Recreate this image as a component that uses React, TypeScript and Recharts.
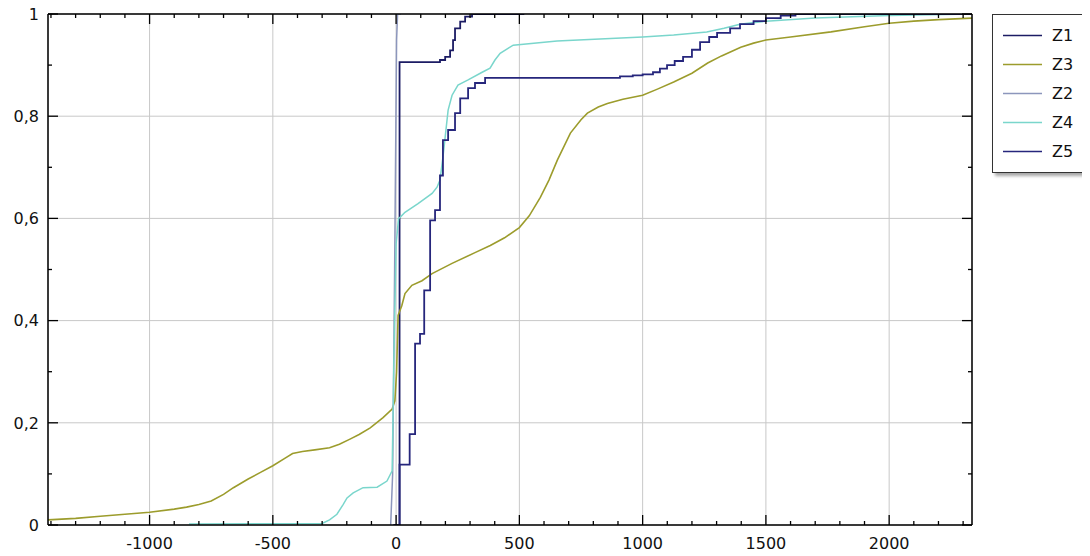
import React from 'react';
import { LineChart, Line, XAxis, YAxis, CartesianGrid, Legend } from 'recharts';

// ---------- axes ----------
const X_DOMAIN: [number, number] = [-1412, 2336];
const xTicks = [-1400, -1300, -1200, -1100, -1000, -900, -800, -700, -600, -500, -400, -300, -200, -100, 0, 100, 200, 300, 400, 500, 600, 700, 800, 900, 1000, 1100, 1200, 1300, 1400, 1500, 1600, 1700, 1800, 1900, 2000, 2100, 2200, 2300];
const xMajorTicks = [-1000, -500, 0, 500, 1000, 1500, 2000];
const yTicks = [0, 0.1, 0.2, 0.3, 0.4, 0.5, 0.6, 0.7, 0.8, 0.9, 1];
const yGridTicks = [0.2, 0.4, 0.6, 0.8];
const yLabelValues = [0, 0.2, 0.4, 0.6, 0.8, 1];
const yLabelTexts = ['0', '0,2', '0,4', '0,6', '0,8', '1'];
const legendOrder = ['Z1', 'Z3', 'Z2', 'Z4', 'Z5'];

// ---------- series ----------
const z1 = [
  { x: -10, y: 0 }, { x: 14, y: 0.906 }, { x: 178, y: 0.91 }, { x: 199, y: 0.916 }, { x: 219, y: 0.929 },
  { x: 231, y: 0.949 }, { x: 239, y: 0.972 }, { x: 260, y: 0.985 }, { x: 280, y: 0.995 }, { x: 308, y: 1 },
  { x: 520, y: 1 },
];

const z3 = [
  { x: -1412, y: 0.01 }, { x: -1300, y: 0.013 }, { x: -1200, y: 0.017 }, { x: -1100, y: 0.021 }, { x: -1000, y: 0.025 },
  { x: -900, y: 0.031 }, { x: -850, y: 0.035 }, { x: -800, y: 0.04 }, { x: -750, y: 0.047 }, { x: -700, y: 0.06 },
  { x: -660, y: 0.073 }, { x: -600, y: 0.09 }, { x: -550, y: 0.103 }, { x: -500, y: 0.116 }, { x: -450, y: 0.131 },
  { x: -420, y: 0.14 }, { x: -380, y: 0.144 }, { x: -330, y: 0.147 }, { x: -270, y: 0.151 }, { x: -230, y: 0.158 },
  { x: -187, y: 0.168 }, { x: -150, y: 0.177 }, { x: -105, y: 0.19 }, { x: -53, y: 0.21 }, { x: -16, y: 0.227 },
  { x: -5, y: 0.243 }, { x: 2, y: 0.3 }, { x: 8, y: 0.41 }, { x: 23, y: 0.429 }, { x: 36, y: 0.453 },
  { x: 64, y: 0.469 }, { x: 105, y: 0.478 }, { x: 146, y: 0.492 }, { x: 227, y: 0.512 }, { x: 320, y: 0.533 },
  { x: 382, y: 0.547 }, { x: 440, y: 0.562 }, { x: 500, y: 0.582 }, { x: 540, y: 0.605 }, { x: 585, y: 0.641 },
  { x: 620, y: 0.675 }, { x: 654, y: 0.714 }, { x: 707, y: 0.767 }, { x: 750, y: 0.793 }, { x: 776, y: 0.806 },
  { x: 820, y: 0.818 }, { x: 857, y: 0.825 }, { x: 920, y: 0.833 }, { x: 1000, y: 0.841 }, { x: 1060, y: 0.853 },
  { x: 1126, y: 0.867 }, { x: 1200, y: 0.884 }, { x: 1264, y: 0.904 }, { x: 1320, y: 0.918 }, { x: 1398, y: 0.935 },
  { x: 1450, y: 0.943 }, { x: 1500, y: 0.949 }, { x: 1600, y: 0.955 }, { x: 1764, y: 0.965 }, { x: 1900, y: 0.975 },
  { x: 2000, y: 0.982 }, { x: 2100, y: 0.986 }, { x: 2200, y: 0.989 }, { x: 2336, y: 0.992 },
];

const z2 = [
  { x: -22, y: 0 }, { x: -14, y: 0.1 }, { x: -6, y: 0.5 }, { x: 2, y: 0.95 }, { x: 6, y: 1 }, { x: 20, y: 1 },
];

const z4 = [
  { x: -840, y: 0.002 }, { x: -300, y: 0.003 }, { x: -270, y: 0.01 }, { x: -240, y: 0.021 }, { x: -215, y: 0.04 },
  { x: -199, y: 0.053 }, { x: -174, y: 0.063 }, { x: -134, y: 0.073 }, { x: -77, y: 0.074 }, { x: -37, y: 0.086 },
  { x: -16, y: 0.106 }, { x: -8, y: 0.35 }, { x: 0, y: 0.55 }, { x: 10, y: 0.6 }, { x: 16, y: 0.602 },
  { x: 36, y: 0.612 }, { x: 89, y: 0.629 }, { x: 146, y: 0.649 }, { x: 166, y: 0.661 }, { x: 178, y: 0.675 },
  { x: 190, y: 0.72 }, { x: 199, y: 0.759 }, { x: 211, y: 0.812 }, { x: 227, y: 0.841 }, { x: 251, y: 0.861 },
  { x: 292, y: 0.871 }, { x: 349, y: 0.886 }, { x: 381, y: 0.894 }, { x: 401, y: 0.91 }, { x: 422, y: 0.923 },
  { x: 475, y: 0.939 }, { x: 653, y: 0.947 }, { x: 1000, y: 0.955 }, { x: 1126, y: 0.959 }, { x: 1260, y: 0.965 },
  { x: 1330, y: 0.972 }, { x: 1395, y: 0.98 }, { x: 1500, y: 0.986 }, { x: 1700, y: 0.992 }, { x: 2000, y: 0.997 },
  { x: 2336, y: 1 },
];

const z5 = [
  { x: -10, y: 0 }, { x: 14, y: 0.118 }, { x: 55, y: 0.178 }, { x: 77, y: 0.355 }, { x: 97, y: 0.374 },
  { x: 114, y: 0.459 }, { x: 138, y: 0.596 }, { x: 158, y: 0.616 }, { x: 178, y: 0.684 }, { x: 190, y: 0.753 },
  { x: 211, y: 0.773 }, { x: 239, y: 0.806 }, { x: 260, y: 0.835 }, { x: 292, y: 0.855 }, { x: 320, y: 0.865 },
  { x: 361, y: 0.875 }, { x: 908, y: 0.878 }, { x: 960, y: 0.88 }, { x: 1000, y: 0.882 }, { x: 1042, y: 0.886 },
  { x: 1070, y: 0.893 }, { x: 1099, y: 0.9 }, { x: 1130, y: 0.908 }, { x: 1164, y: 0.916 }, { x: 1200, y: 0.93 },
  { x: 1233, y: 0.945 }, { x: 1270, y: 0.955 }, { x: 1302, y: 0.963 }, { x: 1355, y: 0.972 }, { x: 1395, y: 0.98 },
  { x: 1450, y: 0.986 }, { x: 1500, y: 0.992 }, { x: 1560, y: 0.997 }, { x: 1620, y: 1 }, { x: 2336, y: 1 },
];

const COLORS = {
  z1: '#1c1c64',
  z3: '#9c9c2c',
  z2: '#8c96bc',
  z4: '#7ad6cc',
  z5: '#26267c',
};

const FONT = '"DejaVu Sans", "Liberation Sans", sans-serif';
const MAJOR_LEN = 10;
const MINOR_LEN = 4;

const isMajorX = (v: number) => xMajorTicks.includes(v);
const yLabelFor = (v: number) => {
  const i = yLabelValues.findIndex((t) => Math.abs(t - v) < 1e-6);
  return i >= 0 ? yLabelTexts[i] : null;
};

function BottomTick(props: any) {
  const { x, y, payload } = props;
  const v = payload.value;
  const major = isMajorX(v);
  return (
    <g>
      <line x1={x} y1={y} x2={x} y2={y - (major ? MAJOR_LEN : MINOR_LEN)} stroke="#000" strokeWidth={1.3} />
      {major && (
        <text x={x} y={y + 24} textAnchor="middle" fontSize={16} fontFamily={FONT} fill="#111">
          {v}
        </text>
      )}
    </g>
  );
}

function TopTick(props: any) {
  const { x, y, payload } = props;
  const major = isMajorX(payload.value);
  return <line x1={x} y1={y} x2={x} y2={y + (major ? MAJOR_LEN : MINOR_LEN)} stroke="#000" strokeWidth={1.3} />;
}

function LeftTick(props: any) {
  const { x, y, payload } = props;
  const label = yLabelFor(payload.value);
  const major = label !== null;
  return (
    <g>
      <line x1={x} y1={y} x2={x + (major ? MAJOR_LEN : MINOR_LEN)} y2={y} stroke="#000" strokeWidth={1.3} />
      {major && (
        <text x={x - 9} y={y} dy="0.36em" textAnchor="end" fontSize={16} fontFamily={FONT} fill="#111">
          {label}
        </text>
      )}
    </g>
  );
}

function RightTick(props: any) {
  const { x, y, payload } = props;
  const major = yLabelFor(payload.value) !== null;
  return <line x1={x} y1={y} x2={x - (major ? MAJOR_LEN : MINOR_LEN)} y2={y} stroke="#000" strokeWidth={1.3} />;
}

function renderLegend(props: any) {
  const items = props.payload ?? [];
  return (
    <div
      style={{
        width: 96,
        border: '1px solid #333',
        background: '#fff',
        boxShadow: '3px 3px 3px rgba(0,0,0,0.35)',
        padding: '6px 0',
        fontFamily: FONT,
        fontSize: 16,
        color: '#111',
      }}
    >
      {items.map((it: any) => (
        <div key={it.value} style={{ height: 29, display: 'flex', alignItems: 'center' }}>
          <svg width={59} height={29} style={{ display: 'block' }}>
            <line x1={10} x2={49} y1={14.5} y2={14.5} stroke={it.color} strokeWidth={1.6} />
          </svg>
          <span>{it.value}</span>
        </div>
      ))}
    </div>
  );
}

const axisLine = { stroke: '#000', strokeWidth: 1.5 };

export default function App() {
  return (
    <div style={{ width: 1074, height: 552, position: 'relative', marginTop: -4 }}>
      <LineChart width={1074} height={552} margin={{ top: 9, right: 109, bottom: 0, left: 0 }}>
        <XAxis
          xAxisId="b"
          type="number"
          dataKey="x"
          domain={X_DOMAIN}
          ticks={xTicks}
          interval={0}
          orientation="bottom"
          height={31}
          tickSize={0}
          tickMargin={0}
          tickLine={false}
          tick={<BottomTick />}
          axisLine={axisLine}
          allowDataOverflow
        />
        <XAxis
          xAxisId="t"
          type="number"
          dataKey="x"
          domain={X_DOMAIN}
          ticks={xTicks}
          interval={0}
          orientation="top"
          height={1}
          tickSize={0}
          tickMargin={0}
          tickLine={false}
          tick={<TopTick />}
          axisLine={axisLine}
          allowDataOverflow
        />
        <YAxis
          yAxisId="l"
          type="number"
          domain={[0, 1]}
          ticks={yTicks}
          interval={0}
          orientation="left"
          width={40}
          tickSize={0}
          tickMargin={0}
          tickLine={false}
          tick={<LeftTick />}
          axisLine={axisLine}
          allowDataOverflow
        />
        <YAxis
          yAxisId="r"
          type="number"
          domain={[0, 1]}
          ticks={yTicks}
          interval={0}
          orientation="right"
          width={1}
          tickSize={0}
          tickMargin={0}
          tickLine={false}
          tick={<RightTick />}
          axisLine={axisLine}
          allowDataOverflow
        />
        <XAxis xAxisId="g" type="number" dataKey="x" domain={X_DOMAIN} ticks={xMajorTicks} orientation="top" height={0} hide allowDataOverflow />
        <YAxis yAxisId="gy" type="number" domain={[0, 1]} ticks={yGridTicks} orientation="right" width={0} hide allowDataOverflow />
        <CartesianGrid xAxisId="g" yAxisId="gy" stroke="#c8c8c8" strokeWidth={1} />
        <Line xAxisId="b" yAxisId="l" name="Z1" data={z1} dataKey="y" type="stepAfter" stroke={COLORS.z1} strokeWidth={1.8} dot={false} activeDot={false} isAnimationActive={false} />
        <Line xAxisId="b" yAxisId="l" name="Z3" data={z3} dataKey="y" type="linear" stroke={COLORS.z3} strokeWidth={1.6} dot={false} activeDot={false} isAnimationActive={false} />
        <Line xAxisId="b" yAxisId="l" name="Z2" data={z2} dataKey="y" type="linear" stroke={COLORS.z2} strokeWidth={1.5} dot={false} activeDot={false} isAnimationActive={false} />
        <Line xAxisId="b" yAxisId="l" name="Z4" data={z4} dataKey="y" type="linear" stroke={COLORS.z4} strokeWidth={1.5} dot={false} activeDot={false} isAnimationActive={false} />
        <Line xAxisId="b" yAxisId="l" name="Z5" data={z5} dataKey="y" type="stepAfter" stroke={COLORS.z5} strokeWidth={1.8} dot={false} activeDot={false} isAnimationActive={false} />
        <Legend
          layout="horizontal"
          verticalAlign="middle"
          align="center"
          itemSorter={(item: any) => legendOrder.indexOf(item.value)}
          wrapperStyle={{ position: 'absolute', left: 984, top: 10, width: 98, height: 'auto' }}
          content={renderLegend}
        />
      </LineChart>
    </div>
  );
}
